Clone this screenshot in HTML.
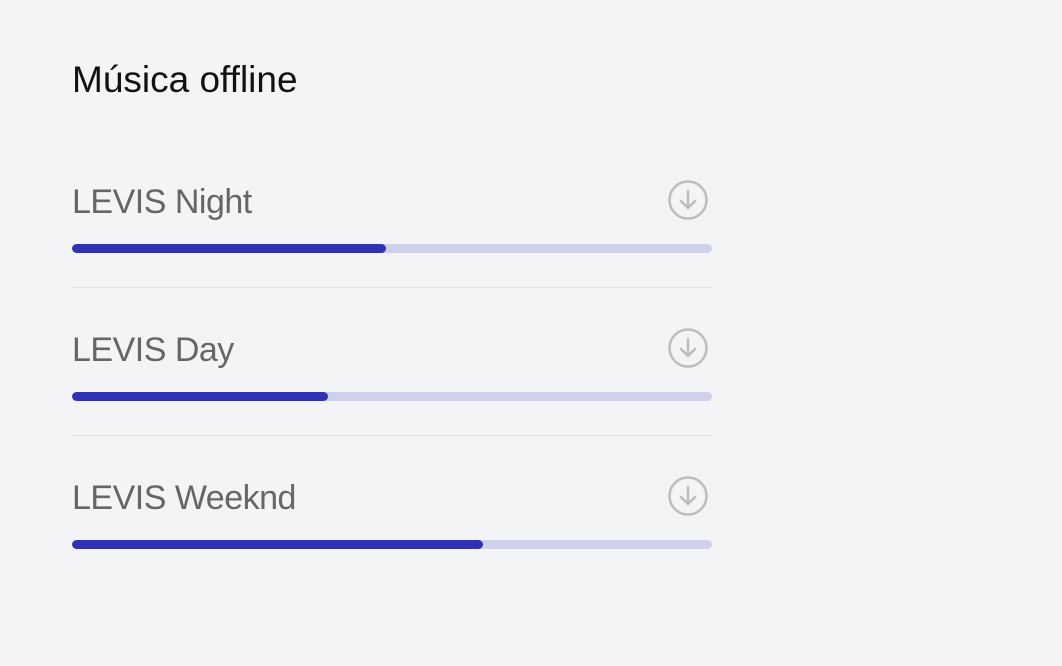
<!DOCTYPE html>
<html><head><meta charset="utf-8"><style>
body{margin:0;width:1062px;height:666px;background:#f3f4f6;font-family:"Liberation Sans",sans-serif;position:relative;overflow:hidden}
.title{position:absolute;left:72px;top:58px;font-size:37px;color:#111;letter-spacing:0px;line-height:44px;margin:0;font-weight:normal}
.row{position:absolute;left:72px;width:640px;height:148px}
.name{position:absolute;left:0;top:18px;font-size:34px;color:#666;line-height:40px;letter-spacing:-0.5px}
.icon{position:absolute;left:596px;top:15px}
.track{position:absolute;left:0;top:80px;width:640px;height:9px;border-radius:5px;background:#cfd0ea;overflow:hidden}
.fill{height:9px;background:#3131b4;border-radius:5px}
.sep{position:absolute;left:0;top:123px;width:640px;height:1px;background:#e2e3e6}
</style></head><body>
<h1 class="title">Música offline</h1>
<div id="list"></div>
<script>
const names=["LEVIS Night","LEVIS Day","LEVIS Weeknd"];
const progress=[0.49,0.40,0.642];
const list=document.getElementById('list');
names.forEach((n,i)=>{
  const r=document.createElement('div');r.className='row';r.style.top=(164+i*148)+'px';
  
  
  const t=document.createElement('div');t.className='name';t.textContent=n;
  
  
  r.appendChild(t);
  const ic=document.createElementNS('http://www.w3.org/2000/svg','svg');
  ic.setAttribute('width','42');ic.setAttribute('height','42');ic.setAttribute('class','icon');
  ic.innerHTML='<circle cx="20" cy="21" r="18.5" fill="none" stroke="#bdbdbd" stroke-width="2.5"/><path d="M20 12v17M13 22l7 7 7-7" fill="none" stroke="#bdbdbd" stroke-width="2.5" stroke-linecap="round" stroke-linejoin="round"/>';
  
  
  r.appendChild(ic);
  const tr=document.createElement('div');tr.className='track';
  
  
  const f=document.createElement('div');f.className='fill';f.style.width=(progress[i]*640)+'px';
  
  
  tr.appendChild(f);r.appendChild(tr);
  if(i<names.length-1){const s=document.createElement('div');s.className='sep';
    
    
    r.appendChild(s);}
  list.appendChild(r);
});
</script>
</body></html>
